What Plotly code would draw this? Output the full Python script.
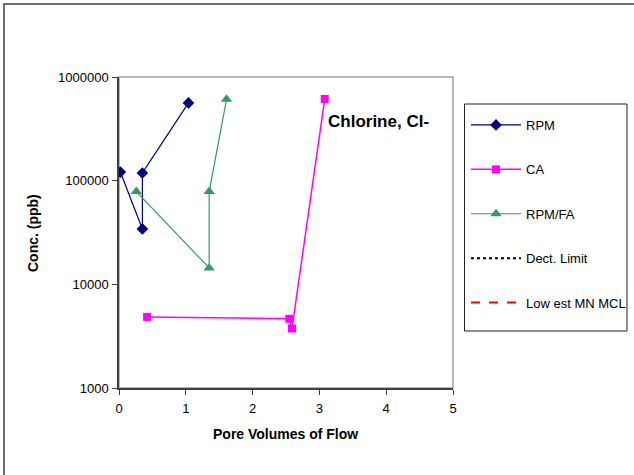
import plotly.graph_objects as go

# Data
rpm_x = [0.02, 0.35, 0.35, 1.04]
rpm_y = [121000, 34200, 118600, 562000]
ca_x = [0.42, 2.55, 2.59, 3.08]
ca_y = [4850, 4650, 3750, 614000]
fa_x = [0.26, 1.35, 1.35, 1.61]
fa_y = [78400, 14400, 78400, 610000]
ytick_vals = [1000, 10000, 100000, 1000000]
ytick_text = ["1000", "10000", "100000", "1000000"]
xtick_vals = [0, 1, 2, 3, 4, 5]

FONT = "Liberation Sans, Arial, sans-serif"

fig = go.Figure()
fig.add_trace(go.Scatter(x=rpm_x, y=rpm_y, name="RPM", mode="lines+markers", legendgroup="a",
                         line=dict(color="#000080", width=1.2),
                         marker=dict(symbol="diamond", size=9, color="#000080")))
fig.add_trace(go.Scatter(x=ca_x, y=ca_y, name="CA", mode="lines+markers", legendgroup="b",
                         line=dict(color="#FF00FF", width=1.5),
                         marker=dict(symbol="square", size=8, color="#FF00FF")))
fig.add_trace(go.Scatter(x=fa_x, y=fa_y, name="RPM/FA", mode="lines+markers", legendgroup="c",
                         line=dict(color="#339966", width=1.2),
                         marker=dict(symbol="triangle-up", size=10, color="#339966")))
fig.add_trace(go.Scatter(x=[None], y=[None], name="Dect. Limit", mode="lines", legendgroup="d",
                         line=dict(color="black", width=2, dash="dot")))
fig.add_trace(go.Scatter(x=[None], y=[None], name="Low est MN MCL", mode="lines", legendgroup="e",
                         line=dict(color="red", width=2, dash="dash")))

L, R, T, B = 119, 453, 77, 388
W, H = 634, 475
pw, ph = R - L, B - T

def px_x(p):
    return (p - L) / pw

def px_y(p):
    return (B - p) / ph

fig.update_layout(
    width=W, height=H,
    margin=dict(l=L, r=W - R, t=T, b=H - B, pad=0, autoexpand=False),
    paper_bgcolor="white", plot_bgcolor="white",
    font=dict(family=FONT, size=13, color="black"),
    showlegend=True,
    legend=dict(x=px_x(466), y=px_y(110), xanchor="left", yanchor="top",
                borderwidth=0, bgcolor="rgba(0,0,0,0)",
                font=dict(family=FONT, size=13, color="black"),
                tracegroupgap=24.5, traceorder="grouped", itemwidth=50),
    xaxis=dict(range=[0, 5], tickvals=xtick_vals, showgrid=False, zeroline=False,
               showline=True, linecolor="#404040", linewidth=1.5,
               ticks="outside", ticklen=5, tickcolor="#404040", ticklabelstandoff=3,
               tickfont=dict(family=FONT, size=13, color="black")),
    yaxis=dict(type="log", range=[3, 6], tickvals=ytick_vals, ticktext=ytick_text,
               showgrid=False, zeroline=False, showline=True, linecolor="#404040", linewidth=1.5,
               ticks="outside", ticklen=5, tickcolor="#404040", ticklabelstandoff=1,
               tickfont=dict(family=FONT, size=13, color="black")),
    shapes=[
        dict(type="rect", xref="paper", yref="paper", x0=0, x1=1, y0=0, y1=1,
             line=dict(color="#A0A0A0", width=1.5), layer="below"),
        dict(type="rect", xref="paper", yref="paper", x0=px_x(4), x1=px_x(645),
             y0=px_y(490), y1=px_y(4), line=dict(color="#404040", width=1.5), layer="below"),
        dict(type="rect", xref="paper", yref="paper", x0=px_x(464.5), x1=px_x(627),
             y0=px_y(331), y1=px_y(104), line=dict(color="#202020", width=1), layer="below"),
    ],
    annotations=[
        dict(text="<b>Chlorine, Cl-</b>", x=3.1, y=5.566, xref="x", yref="y",
             xanchor="left", yanchor="middle", showarrow=False,
             font=dict(family=FONT, size=17, color="black")),
        dict(text="<b>Pore Volumes of Flow</b>", x=px_x(285), y=px_y(434), xref="paper", yref="paper",
             xanchor="center", yanchor="middle", showarrow=False,
             font=dict(family=FONT, size=14, color="black")),
        dict(text="<b>Conc. (ppb)</b>", x=px_x(33), y=px_y(233), xref="paper", yref="paper",
             xanchor="center", yanchor="middle", showarrow=False, textangle=-90,
             font=dict(family=FONT, size=14, color="black")),
    ],
)

fig.write_html("out.html", config={"displayModeBar": False},
               post_script="document.body.style.margin='0';document.body.style.padding='0';")
